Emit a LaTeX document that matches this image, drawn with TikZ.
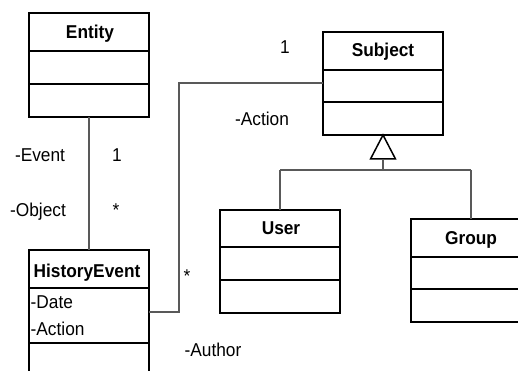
\documentclass[tikz,border=0pt]{standalone}
\usepackage{fontspec}
\setmainfont{Liberation Sans}[FakeStretch=0.93]
\begin{document}
\begin{tikzpicture}[x=1pt,y=-1pt,
  every node/.style={font=\fontsize{18.6}{21}\selectfont},
  cls/.style={draw=black,line width=1.8pt,rectangle,minimum width=120pt,inner sep=0pt,outer sep=0pt,anchor=north west},
  divider/.style={draw=black,line width=1.8pt},
  ctitle/.style={font=\fontsize{18.6}{21}\selectfont\bfseries,anchor=base,inner sep=0pt},
  attr/.style={anchor=base west,inner sep=0pt},
  lbl/.style={anchor=base,inner sep=0pt},
  link/.style={draw=black!65,line width=1.1pt},
  gen/.style={draw=black,line width=1.5pt,fill=white,line join=miter}]
\useasboundingbox (0,0) rectangle (518,371);
\clip (0,0) rectangle (518,371);

% class boxes
\node[cls,minimum height=104pt] (entity) at (29,13) {};
\node[cls,minimum height=103pt] (subject) at (323,32) {};
\node[cls,minimum height=103pt] (user) at (220,210) {};
\node[cls,minimum height=103pt] (group) at (411,219) {};
\node[cls,minimum height=132pt] (history) at (29,250) {};

% compartment dividers
\draw[divider] ([yshift=-38pt]entity.north west) -- ([yshift=-38pt]entity.north east);
\draw[divider] ([yshift=-71pt]entity.north west) -- ([yshift=-71pt]entity.north east);
\draw[divider] ([yshift=-38pt]subject.north west) -- ([yshift=-38pt]subject.north east);
\draw[divider] ([yshift=-70pt]subject.north west) -- ([yshift=-70pt]subject.north east);
\draw[divider] ([yshift=-37pt]user.north west) -- ([yshift=-37pt]user.north east);
\draw[divider] ([yshift=-70pt]user.north west) -- ([yshift=-70pt]user.north east);
\draw[divider] ([yshift=-38pt]group.north west) -- ([yshift=-38pt]group.north east);
\draw[divider] ([yshift=-70pt]group.north west) -- ([yshift=-70pt]group.north east);
\draw[divider] ([yshift=-38pt]history.north west) -- ([yshift=-38pt]history.north east);
\draw[divider] ([yshift=-93pt]history.north west) -- ([yshift=-93pt]history.north east);

% class names
\node[ctitle] (entityname) at (90,39) {Entity};
\node[ctitle] (subjectname) at (383,57) {Subject};
\node[ctitle] (username) at (281,234) {User};
\node[ctitle] (groupname) at (471,244) {Group};
\node[ctitle] (historyname) at (87,277) {HistoryEvent};

% attributes
\node[attr] (hdate) at (30.5,308) {-Date};
\node[attr] (haction) at (30.5,335) {-Action};

% associations
\draw[link] (entity.south) -- (history.north);
\coordinate (bendlow) at (179,312);
\coordinate (bendhigh) at (179,83);
\draw[link] (history.east |- bendlow) -- (bendlow) -- (bendhigh) -- (subject.west |- bendhigh);

% generalization
\draw[gen] (subject.south) -- ++(-12.5,24) -- ++(25,0) -- cycle;
\coordinate (genbase) at (383,159);
\coordinate (genbar) at (383,170);
\draw[link] (genbase) -- (genbar);
\draw[link] (user.north |- genbar) -- (group.north |- genbar);
\draw[link] (user.north |- genbar) -- (user.north);
\draw[link] (group.north |- genbar) -- (group.north);

% role names and multiplicities
\node[lbl] (m1) at (285,54) {1};
\node[lbl] (ract) at (262,126) {-Action};
\node[lbl] (revent) at (40,162) {-Event};
\node[lbl] (m2) at (117,162) {1};
\node[lbl] (robject) at (38,216) {-Object};
\node[lbl] (m3) at (116,216) {*};
\node[lbl] (m4) at (187,282) {*};
\node[lbl] (rauthor) at (213,356) {-Author};
\end{tikzpicture}
\end{document}
